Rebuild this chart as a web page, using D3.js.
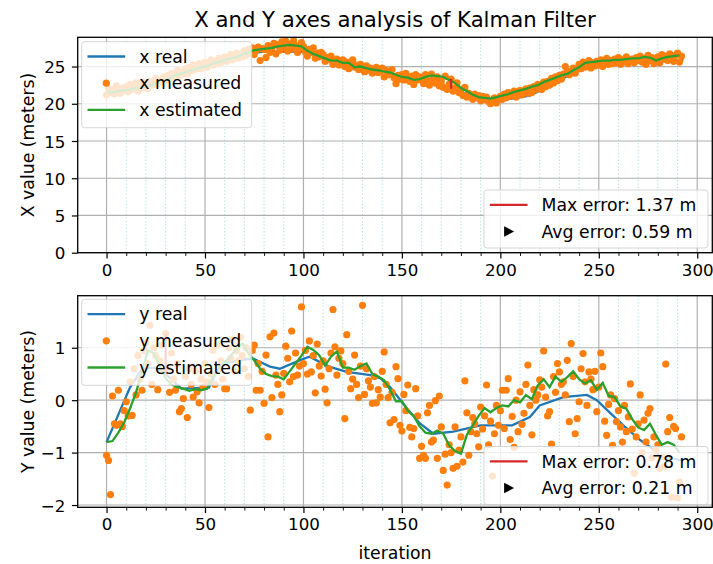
<!DOCTYPE html>
<html>
<head>
<meta charset="utf-8">
<script src="https://cdn.jsdelivr.net/npm/d3@7"></script>
<style>
  body { margin: 0; background: #fff; }
  text { font-family: "DejaVu Sans", sans-serif; fill: #000; }
</style>
</head>
<body>
<svg id="chart" width="713" height="564"></svg>
<script>
// ---- data ----
var iterTicks = [0, 50, 100, 150, 200, 250, 300];
var xValueTicks = [0, 5, 10, 15, 20, 25];
var yValueTicks = [-2, -1, 0, 1];

// real trajectory (way points)
var realXIter = [0, 20, 37, 54, 71, 80, 90, 100, 105, 115, 125, 139, 147, 157, 165, 175, 190, 201, 215, 227, 240, 257, 275, 293];
var realX = [21.6, 22.3, 24.0, 25.4, 26.7, 27.0, 27.0, 27.0, 26.6, 25.7, 25.0, 24.4, 23.9, 23.1, 22.6, 22.0, 20.7, 20.5, 21.1, 22.7, 24.6, 25.4, 25.6, 25.9];

var realYIter = [0, 12, 18, 25, 30, 38, 52, 58, 74, 83, 88, 98, 103, 113, 122, 134, 139, 144, 152, 159, 166, 176, 190, 206, 215, 220, 232, 244, 249, 256, 263, 271, 276, 281, 293];
var realY = [-0.80, 0.25, 0.60, 0.62, 0.50, 0.22, 0.24, 0.70, 0.80, 0.64, 0.60, 0.76, 0.83, 0.64, 0.54, 0.48, 0.42, 0.25, -0.13, -0.44, -0.64, -0.60, -0.48, -0.48, -0.32, -0.10, 0.06, 0.10, 0.00, -0.25, -0.50, -0.76, -0.89, -1.06, -1.16];

// measurements, one per iteration (0..292)
var measuredX = [
  21.2, 22.0, 21.5, 21.9, 21.3, 22.4, 21.7, 21.4, 22.1, 21.8,
  22.3, 21.6, 22.6, 21.9, 22.0, 22.8, 21.7, 22.4, 22.9, 22.1,
  22.6, 22.0, 23.0, 22.5, 22.8, 23.4, 22.7, 23.1, 22.9, 23.6,
  23.0, 23.8, 23.4, 24.1, 23.5, 23.9, 24.5, 23.7, 24.3, 24.0,
  24.7, 24.0, 24.9, 24.4, 25.2, 24.6, 24.8, 25.4, 24.7, 25.1,
  25.6, 24.9, 25.3, 25.9, 25.2, 25.7, 25.4, 26.1, 25.5, 25.9,
  26.3, 25.7, 26.0, 26.6, 25.9, 26.4, 26.8, 26.1, 26.7, 26.3,
  27.1, 26.5, 27.3, 26.8, 27.5, 26.6, 27.2, 27.6, 25.8, 27.4,
  27.3, 26.2, 27.8, 26.9, 27.5, 28.1, 26.7, 27.9, 27.2, 28.3,
  27.6, 28.4, 27.1, 28.0, 27.4, 28.5, 27.8, 26.9, 27.5, 28.2,
  27.7, 27.0, 26.4, 27.3, 26.9, 27.5, 26.1, 26.8, 26.3, 26.9,
  26.6, 25.7, 26.2, 25.9, 26.4, 25.3, 25.8, 26.0, 25.2, 25.7,
  25.9, 25.0, 25.6, 24.7, 25.4, 25.9, 24.9, 25.2, 24.6, 25.3,
  24.9, 24.3, 25.1, 24.5, 24.8, 24.1, 24.6, 24.9, 24.2, 24.4,
  24.8, 23.6, 24.5, 23.9, 24.3, 24.6, 23.5, 22.7, 23.8, 23.3,
  23.9, 23.2, 24.1, 23.4, 23.0, 23.7, 22.6, 23.9, 23.2, 23.6,
  23.5, 22.7, 23.9, 23.1, 22.5, 24.0, 23.3, 22.8, 23.6, 22.4,
  23.0, 22.2, 23.7, 21.9, 22.6, 23.3, 21.7, 22.1, 22.8, 21.5,
  21.9, 21.1, 22.2, 20.9, 21.4, 21.0, 20.6, 21.3, 20.8, 21.1,
  20.4, 21.0, 20.6, 20.9, 20.3, 20.0, 20.5, 20.8, 20.1, 20.7,
  21.0, 20.6, 21.3, 20.8, 21.5, 21.0, 21.3, 21.7, 20.9, 21.4,
  21.8, 21.2, 21.6, 22.0, 21.4, 22.1, 21.5, 22.3, 21.9, 22.6,
  22.4, 21.9, 22.9, 22.3, 23.0, 22.5, 23.4, 22.8, 23.6, 23.1,
  23.8, 23.3, 24.0, 25.0, 24.4, 23.9, 24.2, 24.8, 24.1, 24.6,
  25.3, 24.7, 25.6, 24.9, 25.4, 25.8, 24.8, 25.5, 25.1, 25.7,
  25.2, 25.9, 25.0, 25.6, 26.1, 25.3, 25.8, 25.4, 26.0, 25.5,
  26.2, 25.3, 25.9, 25.6, 26.3, 25.4, 25.8, 26.0, 25.5, 26.2,
  25.9, 26.4, 25.6, 26.1, 25.3, 26.5, 25.8, 26.2, 25.4, 26.0,
  26.3, 25.5, 26.6, 26.0, 26.4, 25.8, 26.7, 26.2, 25.7, 26.5,
  26.8, 25.6, 26.4
];

var measuredY = [
  -1.05, -1.15, -1.80, 0.08, -0.45, -0.48, 0.19, -0.45, -0.50, -0.20,
  -0.03, -0.30, 0.35, -0.29, 0.60, 0.10, 0.85, 0.40, 0.19, 0.95,
  1.10, 0.70, 1.43, 0.30, 1.00, 0.85, 0.20, 0.75, 1.05, 0.55,
  1.27, 0.60, 0.15, 0.90, 0.40, 0.19, 0.70, -0.22, -0.16, 0.03,
  0.45, -0.33, 0.60, 0.30, 0.06, 0.55, 0.16, -0.05, 0.40, 0.25,
  0.70, 0.35, -0.14, 0.50, 0.95, 0.30, 1.05, 0.60, 0.75, 0.40,
  0.22, 0.22, 1.00, 0.80, 1.15, 0.55, 0.95, 0.75, 1.20, 0.85,
  0.60, 1.00, 0.45, -0.19, 0.95, 1.05, 0.19, 0.70, 0.19, 0.55,
  -0.06, 0.86, -0.70, 1.21, 0.05, 1.28, 0.48, 0.30, -0.22, 0.10,
  0.51, 1.03, 0.80, 0.35, 1.32, 0.45, 0.90, 0.48, 0.65, 1.78,
  0.70, 0.95, 0.50, 1.13, 0.54, 0.85, 0.14, 1.07, 0.65, 0.46,
  0.75, 0.21, -0.05, 0.60, 0.90, 1.73, 1.02, 0.48, 0.80, 0.94,
  0.70, -0.35, 1.25, 0.55, 0.22, 0.40, 0.86, 0.30, 0.05, 0.65,
  1.81, 0.11, 0.60, 0.37, 0.25, -0.06, 0.45, -0.05, 0.20, 0.06,
  0.55, 0.92, 0.30, 0.05, -0.43, 0.15, -0.37, 0.64, 0.41, -0.48,
  -0.59, 0.11, -0.20, 0.29, -0.52, -0.70, -0.54, 0.22, -0.30, -1.11,
  -0.88, -1.05, -1.11, -0.24, -0.10, -0.80, -0.76, -0.01, -1.11, 0.08,
  -0.51, -1.34, -1.03, -1.62, -0.85, -1.00, -1.30, -0.51, -1.26, -0.95,
  -0.70, -1.18, 0.37, -0.24, -1.05, -0.60, -0.33, -0.45, -0.64, -0.89,
  -0.13, -0.55, -0.30, 0.29, -0.85, -0.40, -1.45, -0.64, -0.10, -0.48,
  -0.20, 0.19, -0.54, 0.19, 0.41, -0.75, -0.31, -0.90, 0.00, -0.60,
  0.16, -0.46, -0.25, 0.30, 0.67, -0.10, -0.66, 0.20, 0.00, 0.10,
  0.39, 0.25, 0.94, 0.06, -0.30, -0.22, -0.84, 0.45, 0.15, 0.70,
  0.54, 0.30, 0.35, 0.10, 0.76, -0.41, 1.08, 0.45, -0.64, -0.35,
  -0.03, 0.60, 0.89, 0.35, -0.10, 0.54, 0.40, 0.20, 0.55, -0.22,
  0.25, 0.90, 0.64, -0.40, -0.67, -0.08, 0.10, -0.86, 0.03, -0.41,
  -0.20, -0.51, -0.80, -0.10, -0.60, -0.32, 0.31, -0.55, -1.39, -0.70,
  -0.45, 0.10, -1.00, -0.38, -0.80, -0.25, -0.16, -1.10, -0.70, -0.95,
  -0.85, -1.30, -1.08, -1.27, 0.69, -0.60, -0.33, -1.85, -0.50, -0.54,
  -1.86, -1.56, -0.70
];

// filter estimate, sampled every EST_STEP iterations
var EST_STEP = 3;
var estimatedX = [
  21.6, 21.5, 21.7, 21.8, 21.9, 22.1, 22.2, 22.4, 22.6, 23.0,
  23.2, 23.6, 23.9, 24.1, 24.4, 24.6, 24.9, 25.1, 25.4, 25.6,
  25.9, 26.1, 26.3, 26.6, 26.9, 27.2, 27.3, 27.4, 27.5, 27.7,
  27.8, 27.9, 27.8, 27.7, 27.1, 26.7, 26.4, 26.1, 25.8, 25.8,
  25.5, 25.5, 24.9, 25.0, 24.8, 24.6, 24.5, 24.3, 24.2, 23.9,
  23.6, 23.5, 23.2, 23.3, 23.6, 23.8, 23.7, 23.6, 23.2, 22.8,
  22.1, 21.7, 21.2, 20.9, 20.8, 20.7, 20.9, 21.1, 21.3, 21.6,
  21.8, 22.0, 22.3, 22.5, 22.9, 23.2, 23.5, 23.8, 24.0, 24.5,
  24.9, 25.5, 25.6, 25.7, 25.8, 25.8, 25.9, 25.9, 26.0, 26.1,
  26.1, 26.3, 26.2, 25.8, 26.1, 26.3, 26.4, 26.5
];
var estimatedY = [
  -0.80, -0.78, -0.62, -0.42, -0.15, 0.15, 0.55, 0.95, 0.90, 0.65,
  0.42, 0.30, 0.25, 0.22, 0.18, 0.21, 0.19, 0.22, 0.45, 0.60,
  0.72, 0.85, 0.98, 1.08, 0.90, 0.76, 0.60, 0.50, 0.46, 0.45,
  0.40, 0.55, 0.70, 0.85, 1.02, 0.96, 0.86, 0.66, 0.83, 0.93,
  0.62, 0.62, 0.58, 0.65, 0.70, 0.50, 0.45, 0.38, 0.20, -0.02,
  -0.02, -0.20, -0.30, -0.50, -0.62, -0.64, -0.58, -0.64, -0.86, -0.97,
  -1.02, -0.66, -0.48, -0.30, -0.15, -0.23, -0.15, -0.10, -0.12, 0.00,
  -0.04, 0.10, 0.02, 0.28, 0.40, 0.25, 0.45, 0.35, 0.44, 0.55,
  0.40, 0.32, 0.38, 0.20, 0.33, 0.08, 0.06, -0.12, -0.16, -0.36,
  -0.52, -0.57, -0.45, -0.66, -0.85, -0.80, -0.85, -1.00
];

var maxErrIter = [175, 30];
var maxErr = [1.37, 0.78];
var avgErr = [0.59, 0.21];

// ---- layout ----
var svg = d3.select("#chart");
var left = 77.7, right = 712.3;
var fs = 17.3;       // legend / axis labels
var tickFs = 16.7;   // tick labels
var tickLen = 5.8;
var colors = {real: "#1f77b4", meas: "#ff7f0e", est: "#2ca02c", max: "#d62728"};

svg.append("text")
    .attr("x", (left + right) / 2)
    .attr("y", 27)
    .attr("text-anchor", "middle")
    .style("font-size", "21.2px")
    .text("X and Y axes analysis of Kalman Filter");

// iteration axis shared by both panels
var lastIter = d3.max([realXIter[realXIter.length - 1], measuredX.length - 1]);
var pad = lastIter * 0.05;
var x = d3.scaleLinear().domain([-pad, lastIter + pad]).range([left, right]);
var minorTicks = d3.range(10, 301, 10).filter(function (d) { return d % 50 !== 0; });

var panels = [
  {top: 37.3, bottom: 252.7, floorZero: true, realIter: realXIter, real: realX, meas: measuredX, est: estimatedX,
   ticks: xValueTicks, label: "X value (meters)", names: ["x real", "x measured", "x estimated"],
   leftLegendTop: 41.7, rightLegendTop: 190},
  {top: 295.7, bottom: 507.3, floorZero: false, realIter: realYIter, real: realY, meas: measuredY, est: estimatedY,
   ticks: yValueTicks, label: "Y value (meters)", names: ["y real", "y measured", "y estimated"],
   leftLegendTop: 299.3, rightLegendTop: 446.5}
];

panels.forEach(function (p, k) {
  var all = p.real.concat(p.meas, p.est);
  var lo = d3.min(all), hi = d3.max(all), span = hi - lo;
  var y = d3.scaleLinear()
      .domain([p.floorZero ? 0 : lo - span * 0.05, hi + span * 0.05])
      .range([p.bottom, p.top]);

  var g = svg.append("g");
  var clipId = "clip" + k;
  g.append("clipPath").attr("id", clipId)
    .append("rect")
      .attr("x", left).attr("y", p.top)
      .attr("width", right - left).attr("height", p.bottom - p.top);

  // minor grid (iterations every 10)
  g.append("g").selectAll("line")
      .data(minorTicks)
    .enter().append("line")
      .attr("x1", function (d) { return x(d); })
      .attr("x2", function (d) { return x(d); })
      .attr("y1", p.top).attr("y2", p.bottom)
      .attr("stroke", "#9fd9e3")
      .attr("stroke-width", 0.9)
      .attr("stroke-dasharray", "1.2,2.2");

  // major grid
  g.append("g").selectAll("line")
      .data(iterTicks)
    .enter().append("line")
      .attr("x1", function (d) { return x(d); })
      .attr("x2", function (d) { return x(d); })
      .attr("y1", p.top).attr("y2", p.bottom)
      .attr("stroke", "#b0b0b0").attr("stroke-width", 1.2);
  g.append("g").selectAll("line")
      .data(p.ticks)
    .enter().append("line")
      .attr("x1", left).attr("x2", right)
      .attr("y1", function (d) { return y(d); })
      .attr("y2", function (d) { return y(d); })
      .attr("stroke", "#b0b0b0").attr("stroke-width", 1.2);

  var plot = g.append("g").attr("clip-path", "url(#" + clipId + ")");

  var line = d3.line()
      .x(function (d) { return x(d[0]); })
      .y(function (d) { return y(d[1]); });

  var realPts = p.realIter.map(function (it, i) { return [it, p.real[i]]; });
  plot.append("path")
      .attr("d", line(realPts))
      .attr("fill", "none")
      .attr("stroke", colors.real)
      .attr("stroke-width", 2.3);

  plot.append("g").selectAll("circle")
      .data(p.meas)
    .enter().append("circle")
      .attr("cx", function (d, i) { return x(i); })
      .attr("cy", function (d) { return y(d); })
      .attr("r", 3.6)
      .attr("fill", colors.meas);

  var estPts = p.est.map(function (v, i) { return [i * EST_STEP, v]; });
  plot.append("path")
      .attr("d", line(estPts))
      .attr("fill", "none")
      .attr("stroke", colors.est)
      .attr("stroke-width", 2.3);

  // max error marker, drawn from the real track
  var it = maxErrIter[k];
  var base = d3.scaleLinear().domain(p.realIter).range(p.real)(it);
  plot.append("line")
      .attr("x1", x(it)).attr("x2", x(it))
      .attr("y1", y(base)).attr("y2", y(base + maxErr[k]))
      .attr("stroke", colors.max)
      .attr("stroke-width", 2.3);

  // axes
  var xAxis = d3.axisBottom(x).tickValues(iterTicks).tickFormat(d3.format("d"))
      .tickSizeInner(tickLen).tickSizeOuter(0).tickPadding(5.2);
  var xa = g.append("g").attr("transform", "translate(0," + p.bottom + ")").call(xAxis);
  var xm = g.append("g").attr("transform", "translate(0," + p.bottom + ")")
      .call(d3.axisBottom(x).tickValues(minorTicks).tickFormat("").tickSizeInner(3.3).tickSizeOuter(0));
  var yAxis = d3.axisLeft(y).tickValues(p.ticks).tickFormat(d3.format("d"))
      .tickSizeInner(tickLen).tickSizeOuter(0).tickPadding(6.5);
  var ya = g.append("g").attr("transform", "translate(" + left + ",0)").call(yAxis);
  [xa, xm, ya].forEach(function (a) {
    a.select(".domain").remove();
    a.selectAll("line").attr("stroke", "#000").attr("stroke-width", 1.2);
    a.selectAll("text").style("font-size", tickFs + "px").attr("fill", "#000")
        .style("font-family", '"DejaVu Sans", sans-serif');
  });
  xm.selectAll("line").attr("stroke-width", 0.9);
  ya.selectAll("text").attr("dy", "0.36em");

  g.append("text")
      .attr("transform", "translate(34," + ((p.top + p.bottom) / 2) + ") rotate(-90)")
      .attr("text-anchor", "middle")
      .style("font-size", fs + "px")
      .text(p.label);

  // legends
  function legend(x0, y0, w, h, items) {
    var lg = g.append("g").attr("transform", "translate(" + x0 + "," + y0 + ")");
    lg.append("rect")
        .attr("width", w).attr("height", h).attr("rx", 3)
        .attr("fill", "#fff").attr("fill-opacity", 0.8)
        .attr("stroke", "#cccccc").attr("stroke-opacity", 0.8);
    items.forEach(function (d, i) {
      var cy = 14.8 + i * 26.7;
      if (d.kind === "line") {
        lg.append("line").attr("x1", 5.8).attr("x2", 43.5).attr("y1", cy).attr("y2", cy)
            .attr("stroke", d.color).attr("stroke-width", 2.3);
      } else if (d.kind === "dot") {
        lg.append("circle").attr("cx", 24.6).attr("cy", cy).attr("r", 3.6).attr("fill", d.color);
      } else {
        lg.append("path")
            .attr("d", "M" + (24.6 - 4.5) + "," + (cy - 5.3) + "L" + (24.6 + 5.5) + "," + cy + "L" + (24.6 - 4.5) + "," + (cy + 5.3) + "Z")
            .attr("fill", "#000");
      }
      lg.append("text").attr("x", 57.5).attr("y", cy).attr("dy", "0.36em")
          .style("font-size", fs + "px").text(d.label);
    });
  }
  legend(left + 4, p.leftLegendTop, 170, 86, [
    {kind: "line", color: colors.real, label: p.names[0]},
    {kind: "dot", color: colors.meas, label: p.names[1]},
    {kind: "line", color: colors.est, label: p.names[2]}
  ]);
  legend(right - 228.3, p.rightLegendTop, 224, 58, [
    {kind: "line", color: colors.max, label: "Max error: " + maxErr[k].toFixed(2) + " m"},
    {kind: "tri", label: "Avg error: " + avgErr[k].toFixed(2) + " m"}
  ]);

  // frame
  g.append("rect")
      .attr("x", left).attr("y", p.top)
      .attr("width", right - left).attr("height", p.bottom - p.top)
      .attr("fill", "none").attr("stroke", "#000").attr("stroke-width", 1.3);
});

svg.append("text")
    .attr("x", (left + right) / 2)
    .attr("y", 559)
    .attr("text-anchor", "middle")
    .style("font-size", fs + "px")
    .text("iteration");
</script>
</body>
</html>
